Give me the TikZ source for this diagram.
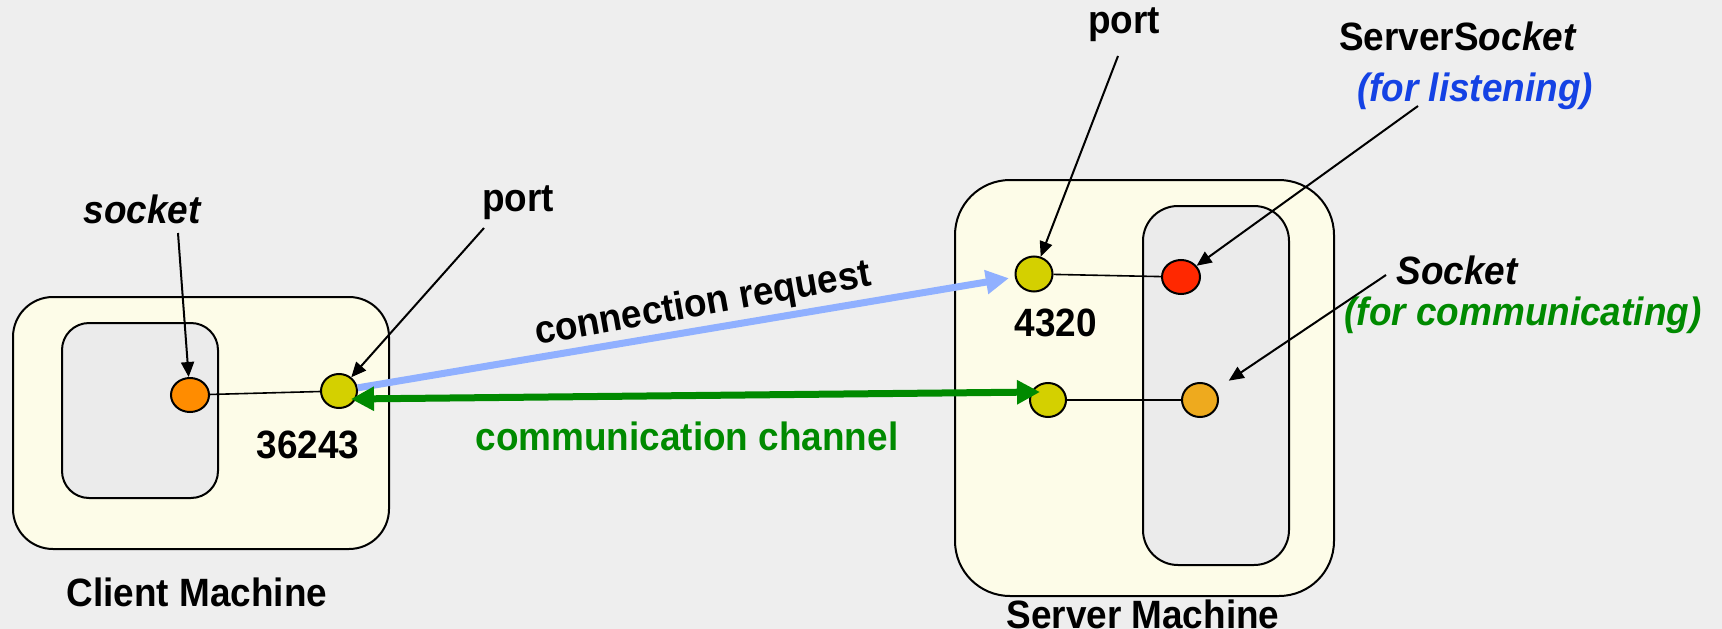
\documentclass[tikz,border=0pt]{standalone}
\usepackage{fontspec}
\setmainfont{Liberation Sans}[FakeStretch=0.935]
\usetikzlibrary{shapes.geometric,arrows.meta}

\definecolor{bgcol}{RGB}{238,238,238}
\definecolor{machinefill}{RGB}{253,252,232}
\definecolor{procfill}{RGB}{235,235,235}
\definecolor{portyellow}{RGB}{212,208,0}
\definecolor{clientorange}{RGB}{255,140,0}
\definecolor{listenred}{RGB}{255,40,0}
\definecolor{commorange}{RGB}{238,170,30}
\definecolor{reqblue}{RGB}{144,176,255}
\definecolor{chgreen}{RGB}{0,138,0}
\definecolor{txtblue}{RGB}{20,66,228}

\begin{document}
\begin{tikzpicture}[x=1pt,y=-1pt,
  lbl/.style={font=\fontsize{39.5}{42}\selectfont\bfseries, inner sep=0pt},
  ilbl/.style={lbl, font=\fontsize{39.5}{42}\selectfont\bfseries\itshape},
  machine/.style={draw=black, line width=2pt, fill=machinefill, rectangle},
  proc/.style={draw=black, line width=2pt, fill=procfill, rectangle},
  dot/.style={ellipse, draw=black, line width=2pt, inner sep=0pt,
              minimum width=36pt, minimum height=34pt},
  wire/.style={draw=black, line width=1.6pt},
  callout/.style={draw=black, line width=2pt, -{Triangle[length=15pt,width=13pt]}},
  request/.style={draw=reqblue, line width=7pt, -{Triangle[length=23pt,width=23pt]}},
  channel/.style={draw=chgreen, line width=7pt,
                  {Triangle[length=23pt,width=23pt]}-{Triangle[length=23pt,width=23pt]}}
]
  % page and background
  \fill[bgcol] (0,0) rectangle (1722,629);
  \useasboundingbox (0,0) rectangle (1722,629);

  % client machine
  \node[machine, minimum width=376pt, minimum height=252pt, rounded corners=40pt]
    (client) at (201,423) {};
  \node[proc, minimum width=156pt, minimum height=175pt, rounded corners=27pt]
    (cproc) at (140,410.5) {};

  % server machine
  \node[machine, minimum width=379pt, minimum height=416pt, rounded corners=55pt]
    (server) at (1144.5,388) {};
  \node[proc, minimum width=146pt, minimum height=359pt, rounded corners=35pt]
    (sproc) at (1216,385.5) {};

  % sockets and ports
  \node[dot, fill=clientorange, minimum width=38pt] (csock) at (190,395) {};
  \node[dot, fill=portyellow] (cport) at (339,391) {};
  \node[dot, fill=portyellow, minimum width=37pt, minimum height=35pt] (sport) at (1034,274) {};
  \node[dot, fill=listenred, minimum width=38pt] (lsock) at (1181,277) {};
  \node[dot, fill=portyellow] (slport) at (1048,400) {};
  \node[dot, fill=commorange] (csock2) at (1200,400) {};

  \draw[wire] (csock) -- (cport);
  \draw[wire] (sport) -- (lsock);
  \draw[wire] (slport) -- (csock2);

  % labels
  \node[ilbl] (socketlbl) at (142,209) {socket};
  \node[lbl] (cportlbl) at (518,203) {port};
  \node[lbl] (cnum) at (308,445) {36243};
  \node[lbl] (cname) at (197,592) {Client Machine};

  \node[lbl] (sportlbl) at (1124,25) {port};
  \node[lbl] (snum) at (1056,323) {4320};
  \node[lbl] (sname) at (1143,614) {Server Machine};
  \node[lbl] (sslbl) at (1458,36) {ServerS\textit{ocket}};
  \node[ilbl, text=txtblue] (listenlbl) at (1475,91) {(for listening)};
  \node[ilbl] (socklbl) at (1457,270) {Socket};
  \node[ilbl, text=chgreen] (commlbl) at (1523,315) {(for communicating)};

  \node[lbl, rotate=10] (reqlbl) at (703,305) {connection request};
  \node[lbl, text=chgreen] (chlbl) at (687,436) {communication channel};

  % pointer arrows from the labels
  \coordinate (sockettail) at (178,233);
  \coordinate (cporttail) at (484,228);
  \coordinate (sporttail) at (1118,56);
  \coordinate (sstail) at (1418,106);
  \coordinate (socktail) at (1386,275);
  \draw[callout] (sockettail) -- (csock);
  \draw[callout] (cporttail) -- (cport);
  \draw[callout] (sporttail) -- (sport);
  \draw[callout] (sstail) -- (lsock);
  \draw[callout, shorten >=16pt] (socktail) -- (csock2);

  % connection request and communication channel
  \draw[request, shorten >=6pt] (cport) -- (sport);
  \draw[channel] ([xshift=12pt,yshift=-8pt]cport.center) -- ([xshift=-8pt,yshift=8pt]slport.center);
\end{tikzpicture}
\end{document}
